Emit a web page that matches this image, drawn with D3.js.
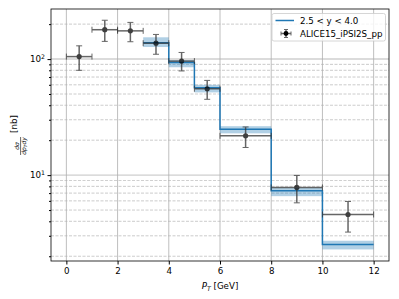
<!DOCTYPE html>
<html><head><meta charset="utf-8">
<script src="https://cdn.jsdelivr.net/npm/d3@7"></script>
<style>body{margin:0;background:#fff}svg{display:block}text{font-family:"DejaVu Sans",sans-serif}</style>
</head><body><svg id="c" width="399" height="299"></svg>
<script>
// ALICE data
const dataX = [0.5, 1.5, 2.5, 3.5, 4.5, 5.5, 7, 9, 11];
const dataXErr = [0.5, 0.5, 0.5, 0.5, 0.5, 0.5, 1, 1, 1];
const dataY = [105, 179, 175, 137, 96, 55.5, 21.8, 7.83, 4.58];
const dataYHi = [130, 216, 207, 163, 114, 65.5, 26, 9.94, 5.93];
const dataYLo = [80, 142, 141, 110, 79, 45, 17.3, 5.77, 3.23];
// Theory step
const binEdges = [3, 4, 5, 6, 8, 10, 12];
const theoryY = [138, 93.6, 56.6, 24.8, 7.33, 2.52];
const theoryHi = [154, 98, 60, 26.4, 7.78, 2.72];
const theoryLo = [127, 85, 51.6, 22.9, 6.59, 2.29];
const xTicks = [0, 2, 4, 6, 8, 10, 12];
const seriesLabels = ["2.5 < y < 4.0", "ALICE15_iPSI2S_pp"];

const svg = d3.select("#c");
const L = 51, R = 389, T = 9, B = 261;
const x = d3.scaleLinear().domain([-0.6, 12.6]).range([L, R]);
const y = d3.scaleLog().domain([1.82, 270]).range([B, T]);
const blue = "#1f77b4";

const g = svg.append("g");
// grid
const minors = [];
for (const dec of [1, 10, 100]) for (let k = 2; k <= 9; k++) { const v = k * dec; if (v > 1.82 && v < 270) minors.push(v); }
g.selectAll(".mn").data(minors).join("line")
  .attr("x1", L).attr("x2", R).attr("y1", d => y(d)).attr("y2", d => y(d))
  .attr("stroke", "#b0b0b0").attr("stroke-width", 0.8).attr("stroke-dasharray", "3,1.5").attr("opacity", 0.8);
g.selectAll(".mj").data([10, 100]).join("line")
  .attr("x1", L).attr("x2", R).attr("y1", d => y(d)).attr("y2", d => y(d))
  .attr("stroke", "#b0b0b0").attr("stroke-width", 1.4).attr("opacity", 0.6);
g.selectAll(".vx").data(xTicks).join("line")
  .attr("x1", d => x(d)).attr("x2", d => x(d)).attr("y1", T).attr("y2", B)
  .attr("stroke", "#b0b0b0").attr("stroke-width", 1).attr("opacity", 0.8);

// band
const bins = theoryY.map((v, i) => ({x0: binEdges[i], x1: binEdges[i + 1], v, hi: theoryHi[i], lo: theoryLo[i]}));
g.selectAll(".band").data(bins).join("rect")
  .attr("x", d => x(d.x0)).attr("width", d => x(d.x1) - x(d.x0))
  .attr("y", d => y(d.hi)).attr("height", d => y(d.lo) - y(d.hi))
  .attr("fill", blue).attr("opacity", 0.35);
// step line
const pts = [];
bins.forEach(d => { pts.push([d.x0, d.v]); pts.push([d.x1, d.v]); });
g.append("path").attr("d", d3.line().x(d => x(d[0])).y(d => y(d[1]))(pts))
  .attr("fill", "none").attr("stroke", blue).attr("stroke-width", 1.5);

// error bars
const ec = "#333", eo = 0.75;
const pd = dataX.map((v, i) => ({x: v, xe: dataXErr[i], y: dataY[i], hi: dataYHi[i], lo: dataYLo[i]}));
const eb = g.selectAll(".eb").data(pd).join("g").attr("opacity", eo);
eb.append("line").attr("x1", d => x(d.x - d.xe)).attr("x2", d => x(d.x + d.xe)).attr("y1", d => y(d.y)).attr("y2", d => y(d.y)).attr("stroke", ec).attr("stroke-width", 1.5);
eb.append("line").attr("x1", d => x(d.x)).attr("x2", d => x(d.x)).attr("y1", d => y(d.hi)).attr("y2", d => y(d.lo)).attr("stroke", ec).attr("stroke-width", 1.5);
eb.append("line").attr("x1", d => x(d.x) - 3).attr("x2", d => x(d.x) + 3).attr("y1", d => y(d.hi)).attr("y2", d => y(d.hi)).attr("stroke", ec).attr("stroke-width", 1);
eb.append("line").attr("x1", d => x(d.x) - 3).attr("x2", d => x(d.x) + 3).attr("y1", d => y(d.lo)).attr("y2", d => y(d.lo)).attr("stroke", ec).attr("stroke-width", 1);
eb.append("line").attr("x1", d => x(d.x - d.xe)).attr("x2", d => x(d.x - d.xe)).attr("y1", d => y(d.y) - 3).attr("y2", d => y(d.y) + 3).attr("stroke", ec).attr("stroke-width", 1);
eb.append("line").attr("x1", d => x(d.x + d.xe)).attr("x2", d => x(d.x + d.xe)).attr("y1", d => y(d.y) - 3).attr("y2", d => y(d.y) + 3).attr("stroke", ec).attr("stroke-width", 1);
eb.append("circle").attr("cx", d => x(d.x)).attr("cy", d => y(d.y)).attr("r", 2.6).attr("fill", "#000");

// axes
const xa = svg.append("g").attr("transform", `translate(0,${B})`)
  .call(d3.axisBottom(x).tickValues(xTicks).tickSize(3.5).tickPadding(3).tickFormat(d3.format("d")));
xa.select(".domain").remove();
xa.selectAll("text").attr("font-size", 8.7).attr("fill", "#000");
const ya = svg.append("g").attr("transform", `translate(${L},0)`)
  .call(d3.axisLeft(y).tickValues([10, 100]).tickSize(3.5).tickPadding(3).tickFormat(() => ""));
ya.select(".domain").remove();
svg.append("g").attr("transform", `translate(${L},0)`)
  .call(d3.axisLeft(y).tickValues(minors).tickSize(2).tickFormat(() => "")).select(".domain").remove();
[[10, "1"], [100, "2"]].forEach(([v, e]) => {
  const t = svg.append("text").attr("x", L - 6).attr("y", y(v) + 3).attr("text-anchor", "end").attr("font-size", 8.7);
  t.append("tspan").text("10");
  t.append("tspan").attr("dy", -3.5).attr("font-size", 6.2).text(e);
});
svg.append("rect").attr("x", L).attr("y", T).attr("width", R - L).attr("height", B - T)
  .attr("fill", "none").attr("stroke", "#000").attr("stroke-width", 0.8);

// x label
const xl = svg.append("text").attr("x", (L + R) / 2).attr("y", 289).attr("text-anchor", "middle").attr("font-size", 8.7);
xl.append("tspan").attr("font-style", "italic").text("P");
xl.append("tspan").attr("font-style", "italic").attr("font-size", 6.2).attr("dy", 2).text("T");
xl.append("tspan").attr("dy", -2).text(" [GeV]");

// y label
const yl = svg.append("g").attr("transform", "translate(17,135) rotate(-90)");
yl.append("text").attr("x", 2).attr("y", 0).attr("font-size", 8.7).text("[nb]");
yl.append("line").attr("x1", -20).attr("x2", -2).attr("y1", 3.6).attr("y2", 3.6).attr("stroke", "#000").attr("stroke-width", 0.6);
yl.append("text").attr("x", -11).attr("y", 2.4).attr("text-anchor", "middle").attr("font-size", 6).attr("font-style", "italic").text("dσ");
const den = yl.append("text").attr("x", -11).attr("y", 8.9).attr("text-anchor", "middle").attr("font-size", 6).attr("font-style", "italic");
den.append("tspan").text("dp");
den.append("tspan").attr("font-size", 4.2).attr("dy", 1).text("T");
den.append("tspan").attr("dy", -1).text("dy");

// legend
const lg = svg.append("g");
lg.append("rect").attr("x", 272).attr("y", 13.5).attr("width", 113.5).attr("height", 27.5).attr("rx", 2)
  .attr("fill", "#fff").attr("fill-opacity", 0.8).attr("stroke", "#ccc").attr("stroke-width", 0.8);
lg.append("line").attr("x1", 275.5).attr("x2", 294).attr("y1", 20.5).attr("y2", 20.5).attr("stroke", blue).attr("stroke-width", 1.5);
lg.append("text").attr("x", 300).attr("y", 23.5).attr("font-size", 8.7).text(seriesLabels[0]);
const lm = lg.append("g").attr("opacity", eo);
lm.append("line").attr("x1", 281).attr("x2", 291).attr("y1", 33.5).attr("y2", 33.5).attr("stroke", ec).attr("stroke-width", 1.5);
lm.append("line").attr("x1", 286).attr("x2", 286).attr("y1", 29.5).attr("y2", 37.5).attr("stroke", ec).attr("stroke-width", 1.5);
lm.append("line").attr("x1", 284).attr("x2", 288).attr("y1", 29.5).attr("y2", 29.5).attr("stroke", ec).attr("stroke-width", 1);
lm.append("line").attr("x1", 284).attr("x2", 288).attr("y1", 37.5).attr("y2", 37.5).attr("stroke", ec).attr("stroke-width", 1);
lm.append("line").attr("x1", 281).attr("x2", 281).attr("y1", 31.5).attr("y2", 35.5).attr("stroke", ec).attr("stroke-width", 1);
lm.append("line").attr("x1", 291).attr("x2", 291).attr("y1", 31.5).attr("y2", 35.5).attr("stroke", ec).attr("stroke-width", 1);
lg.append("circle").attr("cx", 286).attr("cy", 33.5).attr("r", 2.4).attr("fill", "#000");
lg.append("text").attr("x", 300).attr("y", 36.5).attr("font-size", 8.7).text(seriesLabels[1]);
</script></body></html>
